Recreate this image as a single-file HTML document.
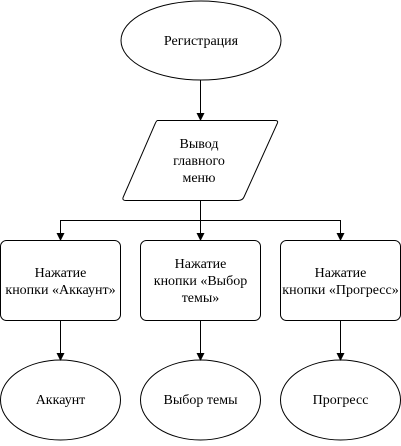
<!DOCTYPE html>
<html><head><meta charset="utf-8"><style>body{margin:0;background:#fff}text{font-family:"Liberation Serif","DejaVu Serif",serif;font-size:14px}</style></head><body>
<svg width="401" height="441" xmlns="http://www.w3.org/2000/svg" text-anchor="middle">
<g fill="#fff" stroke="#000" stroke-width="1">
<ellipse cx="201" cy="40.5" rx="80" ry="39.5"/>
<path d="M157.5 120.5 H275 Q279 120.5 277 124 L244 197 Q242.5 200.5 238 200.5 H126 Q121.5 200.5 123.5 196.5 L155 124 Q156.5 120.5 157.5 120.5Z"/>
<rect x="0.5" y="240.5" width="120" height="80" rx="6"/>
<rect x="140.5" y="240.5" width="120" height="80" rx="6"/>
<rect x="280.5" y="240.5" width="120" height="80" rx="6"/>
<ellipse cx="60.5" cy="400" rx="60" ry="40"/>
<ellipse cx="200.5" cy="400" rx="60" ry="40"/>
<ellipse cx="340.5" cy="400" rx="60" ry="40"/>
</g>
<g stroke="#000" fill="none">
<path d="M200.5 80 V114"/>
<path d="M200.5 200 V234 M60.5 220.5 H340.5 M60.5 220 V234 M340.5 220 V234"/>
<path d="M60.5 320 V354 M200.5 320 V354 M340.5 320 V354"/>
</g>
<g fill="#000">
<path d="M196.5 113 L200.5 121 L204.5 113Z"/>
<path d="M196.5 233 L200.5 241 L204.5 233Z"/>
<path d="M56.5 233 L60.5 241 L64.5 233Z"/>
<path d="M336.5 233 L340.5 241 L344.5 233Z"/>
<path d="M56.5 353 L60.5 361 L64.5 353Z"/>
<path d="M196.5 353 L200.5 361 L204.5 353Z"/>
<path d="M336.5 353 L340.5 361 L344.5 353Z"/>
</g>
<text x="201" y="45">Регистрация</text>
<text x="199" y="148">Вывод</text>
<text x="199" y="165">главного</text>
<text x="199" y="182">меню</text>
<text x="60.5" y="277">Нажатие</text>
<text x="60.5" y="294">кнопки «Аккаунт»</text>
<text x="200.5" y="268">Нажатие</text>
<text x="200.5" y="285">кнопки «Выбор</text>
<text x="200.5" y="302">темы»</text>
<text x="340.5" y="277">Нажатие</text>
<text x="340.5" y="294">кнопки «Прогресс»</text>
<text x="60.5" y="404">Аккаунт</text>
<text x="200.5" y="404">Выбор темы</text>
<text x="340.5" y="404">Прогресс</text>
</svg>
</body></html>
